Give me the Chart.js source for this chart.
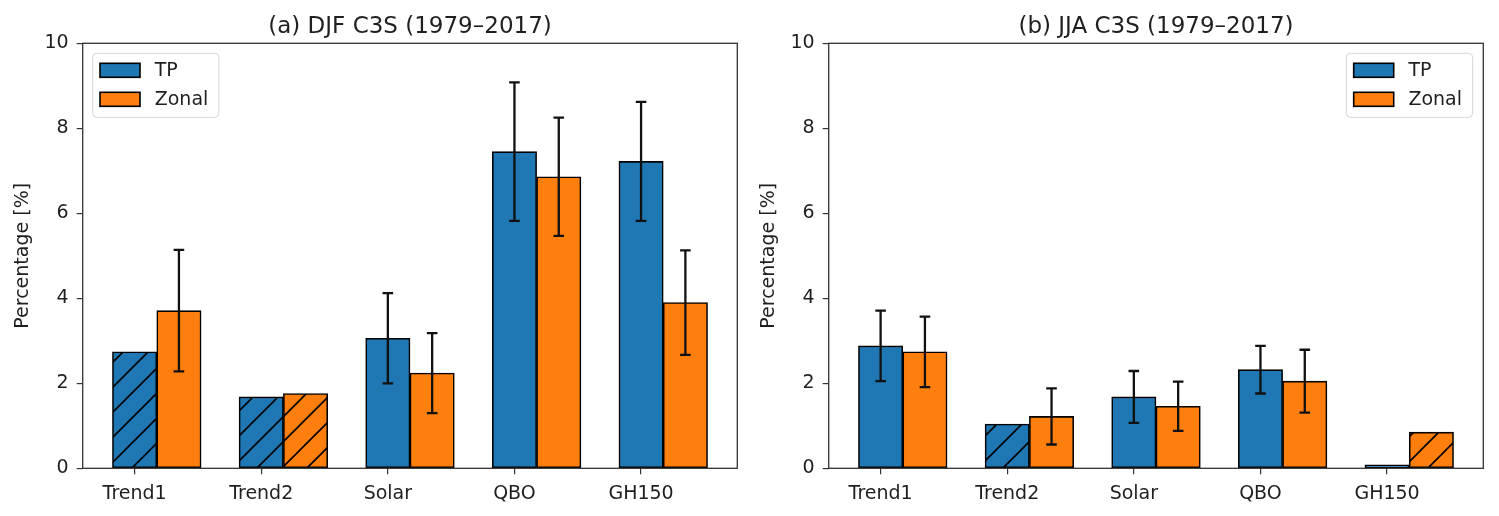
<!DOCTYPE html>
<html>
<head>
<meta charset="utf-8">
<script src="https://cdn.jsdelivr.net/npm/chart.js@4"></script>
<style>
  body { margin: 0; background: #fff; }
  canvas { position: absolute; top: 0; }
  #djf { left: 0; }
  #jja { left: 746px; }
</style>
</head>
<body>
<canvas id="djf" width="750" height="516"></canvas>
<canvas id="jja" width="750" height="516"></canvas>
<script>
// categories on the x axis
const categories = ["Trend1", "Trend2", "Solar", "QBO", "GH150"];
const yTicks = [0, 2, 4, 6, 8, 10];

// (a) DJF
const djfTP = [2.74, 1.68, 3.06, 7.45, 7.22];
const djfTPErr = [null, null, 1.06, 1.63, 1.40];
const djfTPHatch = [true, true, false, false, false];
const djfZonal = [3.71, 1.76, 2.24, 6.86, 3.90];
const djfZonalErr = [1.43, null, 0.94, 1.39, 1.23];
const djfZonalHatch = [false, true, false, false, false];

// (b) JJA
const jjaTP = [2.88, 1.04, 1.68, 2.32, 0.08];
const jjaTPErr = [0.83, null, 0.61, 0.56, null];
const jjaTPHatch = [false, true, false, false, false];
const jjaZonal = [2.74, 1.22, 1.46, 2.05, 0.85];
const jjaZonalErr = [0.83, 0.66, 0.58, 0.74, null];
const jjaZonalHatch = [false, false, false, false, true];

const BAR_W = 0.35;
const FONT = '"DejaVu Sans", sans-serif';
const TEXT = "#1f1f1f";
const BLUE = "#1f77b4";
const ORANGE = "#ff7f0e";

// motif hachuré "/" comme matplotlib
function hatch(color) {
  const s = 25;
  const c = document.createElement("canvas");
  c.width = s;
  c.height = s;
  const g = c.getContext("2d");
  g.fillStyle = color;
  g.fillRect(0, 0, s, s);
  g.strokeStyle = "#000";
  g.lineWidth = 1.6;
  g.beginPath();
  g.moveTo(0, s);
  g.lineTo(s, 0);
  g.moveTo(-2, 2);
  g.lineTo(2, -2);
  g.moveTo(s - 2, s + 2);
  g.lineTo(s + 2, s - 2);
  g.stroke();
  return g.createPattern(c, "repeat");
}

// barres d'erreur dessinées avec l'échelle y
const errorBars = {
  id: "errorBars",
  afterDatasetsDraw(chart) {
    const ctx = chart.ctx;
    const yScale = chart.scales.y;
    ctx.save();
    ctx.strokeStyle = "#111";
    ctx.lineWidth = 2.3;
    chart.data.datasets.forEach((ds, di) => {
      const meta = chart.getDatasetMeta(di);
      meta.data.forEach((bar, i) => {
        const e = ds.errors[i];
        if (e == null) return;
        const v = ds.data[i].y;
        const yTop = yScale.getPixelForValue(v + e);
        const yBot = yScale.getPixelForValue(v - e);
        ctx.beginPath();
        ctx.moveTo(bar.x, yTop);
        ctx.lineTo(bar.x, yBot);
        ctx.moveTo(bar.x - 5.3, yTop);
        ctx.lineTo(bar.x + 5.3, yTop);
        ctx.moveTo(bar.x - 5.3, yBot);
        ctx.lineTo(bar.x + 5.3, yBot);
        ctx.stroke();
      });
    });
    ctx.restore();
  },
};

// cadre complet autour de la zone du graphique
const frame = {
  id: "frame",
  afterDraw(chart) {
    const { ctx, chartArea } = chart;
    ctx.save();
    ctx.strokeStyle = "#333";
    ctx.lineWidth = 1.3;
    ctx.strokeRect(chartArea.left, chartArea.top,
      chartArea.right - chartArea.left, chartArea.bottom - chartArea.top);
    ctx.restore();
  },
};

// légende dans la zone du graphique
const boxLegend = {
  id: "boxLegend",
  afterDraw(chart, args, opts) {
    const { ctx, chartArea } = chart;
    const items = chart.data.datasets;
    ctx.save();
    ctx.font = "19px " + FONT;
    const textW = Math.max(...items.map((d) => ctx.measureText(d.label).width));
    const w = 7.3 + 40 + 14.7 + textW + 10.6;
    const h = 64;
    const x = opts.corner === "left" ? chartArea.left + 10 : chartArea.right - 10.7 - w;
    const y = chartArea.top + 10;
    ctx.beginPath();
    ctx.roundRect(x, y, w, h, 4);
    ctx.fillStyle = "rgba(255,255,255,0.8)";
    ctx.fill();
    ctx.strokeStyle = "#d6d6d6";
    ctx.lineWidth = 1;
    ctx.stroke();
    items.forEach((d, i) => {
      const ry = y + 10 + i * 29;
      ctx.fillStyle = d.legendColor;
      ctx.fillRect(x + 7.3, ry, 40, 14);
      ctx.strokeStyle = "#000";
      ctx.lineWidth = 1.6;
      ctx.strokeRect(x + 7.3, ry, 40, 14);
      ctx.fillStyle = TEXT;
      ctx.textBaseline = "middle";
      ctx.fillText(d.label, x + 62, ry + 8);
    });
    ctx.restore();
  },
};

function dataset(label, color, values, errors, hatched, shift) {
  return {
    label: label,
    legendColor: color,
    data: values.map((v, i) => ({ x: i + shift, y: v })),
    errors: errors,
    backgroundColor: values.map((v, i) => (hatched[i] ? hatch(color) : color)),
    borderColor: "#000",
    borderWidth: 1.6,
    borderSkipped: false,
    grouped: false,
    barPercentage: 1,
    categoryPercentage: 1,
  };
}

function makeChart(id, title, tp, tpErr, tpHatch, zonal, zonalErr, zonalHatch, corner) {
  new Chart(document.getElementById(id), {
    type: "bar",
    data: {
      datasets: [
        dataset("TP", BLUE, tp, tpErr, tpHatch, 0),
        dataset("Zonal", ORANGE, zonal, zonalErr, zonalHatch, BAR_W),
      ],
    },
    options: {
      responsive: false,
      animation: false,
      layout: { padding: { left: 0, right: 12.7, top: 0, bottom: 0 } },
      plugins: {
        legend: { display: false },
        tooltip: { enabled: false },
        title: {
          display: true,
          text: title,
          fullSize: false,
          color: TEXT,
          font: { family: FONT, size: 23, weight: "normal" },
          padding: { top: 13, bottom: 2.7 },
        },
        boxLegend: { corner: corner },
      },
      scales: {
        x: {
          type: "linear",
          min: -0.41,
          max: 4.76,
          offset: false,
          afterBuildTicks: (scale) => {
            scale.ticks = categories.map((c, i) => ({ value: i }));
          },
          afterFit: (scale) => {
            scale.height = 47.7;
          },
          ticks: {
            callback: (v) => categories[v],
            color: TEXT,
            font: { family: FONT, size: 19 },
            padding: 8,
            maxRotation: 0,
            autoSkip: false,
          },
          grid: { offset: false, drawOnChartArea: false, tickLength: 6, color: "#333", lineWidth: 1.2 },
          border: { display: false },
        },
        y: {
          min: 0,
          max: 10,
          afterBuildTicks: (scale) => {
            scale.ticks = yTicks.map((v) => ({ value: v }));
          },
          afterFit: (scale) => {
            scale.width = 82.7;
          },
          ticks: {
            color: TEXT,
            font: { family: FONT, size: 19 },
            padding: 8,
          },
          grid: { drawOnChartArea: false, tickLength: 6, color: "#333", lineWidth: 1.2 },
          border: { display: false },
          title: {
            display: true,
            text: "Percentage [%]",
            color: TEXT,
            font: { family: FONT, size: 19 },
            padding: { top: 12, bottom: 0 },
          },
        },
      },
    },
    plugins: [errorBars, frame, boxLegend],
  });
}

makeChart("djf", "(a) DJF C3S (1979–2017)", djfTP, djfTPErr, djfTPHatch,
  djfZonal, djfZonalErr, djfZonalHatch, "left");
makeChart("jja", "(b) JJA C3S (1979–2017)", jjaTP, jjaTPErr, jjaTPHatch,
  jjaZonal, jjaZonalErr, jjaZonalHatch, "right");
</script>
</body>
</html>
